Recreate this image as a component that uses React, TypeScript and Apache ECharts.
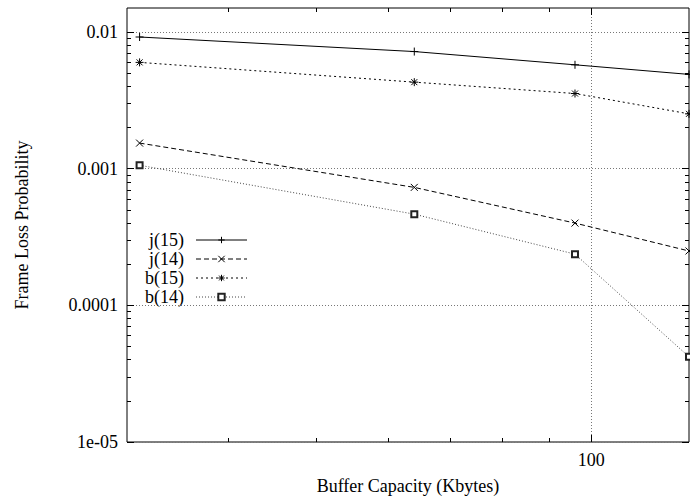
import React, { useEffect, useRef } from "react";
import * as echarts from "echarts";

// Buffer capacities (Kbytes)
const xValues = [32, 64, 96, 128];
// Frame loss probabilities
const j15 = [0.0092, 0.0072, 0.00576, 0.0049];
const j14 = [0.00154, 0.00073, 0.0004, 0.00025];
const b15 = [0.006, 0.0043, 0.00355, 0.00252];
const b14 = [0.00106, 0.000465, 0.000237, 0.000042];

const seriesNames = ["j(15)", "j(14)", "b(15)", "b(14)"];

// Axis ticks
const xMajorTicks = [100];
const xMajorLabels = ["100"];
const xMinorTicks = [40, 50, 60, 70, 80, 90];
const yMajorTicks = [1e-5, 1e-4, 1e-3, 1e-2];
const yMajorLabels = ["1e-05", "0.0001", "0.001", "0.01"];
const yMinorTicks = [
  2e-5, 3e-5, 4e-5, 5e-5, 6e-5, 7e-5, 8e-5, 9e-5,
  2e-4, 3e-4, 4e-4, 5e-4, 6e-4, 7e-4, 8e-4, 9e-4,
  2e-3, 3e-3, 4e-3, 5e-3, 6e-3, 7e-3, 8e-3, 9e-3,
];

const X_MIN = 31;
const X_MAX = 128;
const Y_MIN = 1e-5;
const Y_MAX = 0.015;

const FONT = "'Liberation Serif', 'DejaVu Serif', serif";
const FS = 18;

function labelFor(values: number[], labels: string[], v: number): string {
  for (let i = 0; i < values.length; i++) {
    if (Math.abs(Math.log10(values[i]) - Math.log10(v)) < 1e-6) return labels[i];
  }
  return "";
}

export default function App() {
  const ref = useRef<HTMLDivElement>(null);

  useEffect(() => {
    if (!ref.current) return;
    const chart = echarts.init(ref.current, undefined, { renderer: "svg" });

    const gridStyle = { color: "#777", type: [1, 2] as number[], width: 1 };

    const xAxisBase = {
      type: "log" as const,
      logBase: 10,
      min: X_MIN,
      max: X_MAX,
      gridIndex: 0,
      axisLine: { show: false },
    };
    const yAxisBase = {
      type: "log" as const,
      logBase: 10,
      min: Y_MIN,
      max: Y_MAX,
      gridIndex: 0,
      axisLine: { show: false },
    };

    const mkData = (ys: number[]) => xValues.map((x, i) => [x, ys[i]]);

    const lineCommon = {
      type: "line" as const,
      xAxisIndex: 0,
      yAxisIndex: 0,
      showAllSymbol: true,
      silent: true,
      emphasis: { disabled: true },
    };

    chart.setOption({
      animation: false,
      backgroundColor: "#fff",
      grid: {
        left: 127,
        right: 1,
        top: 8,
        bottom: 55,
        show: true,
        borderColor: "#000",
        borderWidth: 1,
        backgroundColor: "transparent",
        containLabel: false,
        outerBoundsMode: "none",
      },
      legend: {
        orient: "vertical",
        left: 143,
        top: 231,
        padding: 0,
        align: "right",
        itemWidth: 51,
        itemHeight: 8,
        itemGap: 1,
        selectedMode: false,
        data: seriesNames,
        lineStyle: { width: 1 },
        itemStyle: { borderWidth: 1 },
        textStyle: {
          fontFamily: FONT,
          fontSize: FS,
          color: "#000",
          width: 41,
          align: "right",
          lineHeight: 17,
          padding: [0, 7, 0, 0],
        },
      },
      xAxis: [
        {
          ...xAxisBase,
          position: "bottom",
          name: "Buffer Capacity (Kbytes)",
          nameLocation: "middle",
          nameGap: 35,
          nameTextStyle: { fontFamily: FONT, fontSize: FS, color: "#000" },
          axisTick: {
            show: true,
            inside: true,
            length: 7,
            customValues: xMajorTicks,
            lineStyle: { color: "#000" },
          },
          axisLabel: {
            show: true,
            customValues: xMajorTicks,
            margin: 9,
            fontFamily: FONT,
            fontSize: FS,
            color: "#000",
            formatter: (v: number) => labelFor(xMajorTicks, xMajorLabels, v),
          },
          splitLine: { show: true, lineStyle: gridStyle },
        },
        {
          ...xAxisBase,
          position: "bottom",
          axisTick: {
            show: true,
            inside: true,
            length: 4,
            customValues: xMinorTicks,
            lineStyle: { color: "#000" },
          },
          axisLabel: { show: false },
          splitLine: { show: false },
        },
        {
          ...xAxisBase,
          position: "top",
          axisTick: {
            show: true,
            inside: true,
            length: 7,
            customValues: xMajorTicks,
            lineStyle: { color: "#000" },
          },
          axisLabel: { show: false },
          splitLine: { show: false },
        },
        {
          ...xAxisBase,
          position: "top",
          axisTick: {
            show: true,
            inside: true,
            length: 4,
            customValues: xMinorTicks,
            lineStyle: { color: "#000" },
          },
          axisLabel: { show: false },
          splitLine: { show: false },
        },
      ],
      yAxis: [
        {
          ...yAxisBase,
          position: "left",
          name: "Frame Loss Probability",
          nameLocation: "middle",
          nameGap: 96,
          nameRotate: 90,
          nameTextStyle: { fontFamily: FONT, fontSize: FS, color: "#000" },
          axisTick: {
            show: true,
            inside: true,
            length: 7,
            customValues: yMajorTicks,
            lineStyle: { color: "#000" },
          },
          axisLabel: {
            show: true,
            customValues: yMajorTicks,
            margin: 9,
            fontFamily: FONT,
            fontSize: FS,
            color: "#000",
            formatter: (v: number) => labelFor(yMajorTicks, yMajorLabels, v),
          },
          splitLine: { show: true, lineStyle: gridStyle },
        },
        {
          ...yAxisBase,
          position: "left",
          axisTick: {
            show: true,
            inside: true,
            length: 4,
            customValues: yMinorTicks,
            lineStyle: { color: "#000" },
          },
          axisLabel: { show: false },
          splitLine: { show: false },
        },
        {
          ...yAxisBase,
          position: "right",
          axisTick: {
            show: true,
            inside: true,
            length: 7,
            customValues: yMajorTicks,
            lineStyle: { color: "#000" },
          },
          axisLabel: { show: false },
          splitLine: { show: false },
        },
        {
          ...yAxisBase,
          position: "right",
          axisTick: {
            show: true,
            inside: true,
            length: 4,
            customValues: yMinorTicks,
            lineStyle: { color: "#000" },
          },
          axisLabel: { show: false },
          splitLine: { show: false },
        },
      ],
      series: [
        {
          ...lineCommon,
          name: seriesNames[0],
          data: mkData(j15),
          symbol: "path://M0,4L8,4M4,0L4,8",
          symbolSize: 8,
          lineStyle: { color: "#000", width: 1, type: "solid" },
          itemStyle: { color: "#000", borderColor: "#000", borderWidth: 1 },
        },
        {
          ...lineCommon,
          name: seriesNames[1],
          data: mkData(j14),
          symbol: "path://M0,0L8,8M0,8L8,0",
          symbolSize: 7,
          lineStyle: { color: "#000", width: 1, type: [5, 3] },
          itemStyle: { color: "#000", borderColor: "#000", borderWidth: 1 },
        },
        {
          ...lineCommon,
          name: seriesNames[2],
          data: mkData(b15),
          symbol: "path://M0,4L8,4M4,0L4,8M1,1L7,7M1,7L7,1",
          symbolSize: 8,
          lineStyle: { color: "#000", width: 1, type: [2, 3] },
          itemStyle: { color: "#000", borderColor: "#000", borderWidth: 1 },
        },
        {
          ...lineCommon,
          name: seriesNames[3],
          data: mkData(b14),
          symbol: "emptyRect",
          symbolSize: 6,
          lineStyle: { color: "#444", width: 1, type: [1, 2] },
          itemStyle: { color: "#222", borderColor: "#222", borderWidth: 1 },
        },
      ],
    });

    return () => {
      chart.dispose();
    };
  }, []);

  return (
    <div
      ref={ref}
      style={{ position: "fixed", left: 0, top: 0, width: 690, height: 497 }}
    />
  );
}
